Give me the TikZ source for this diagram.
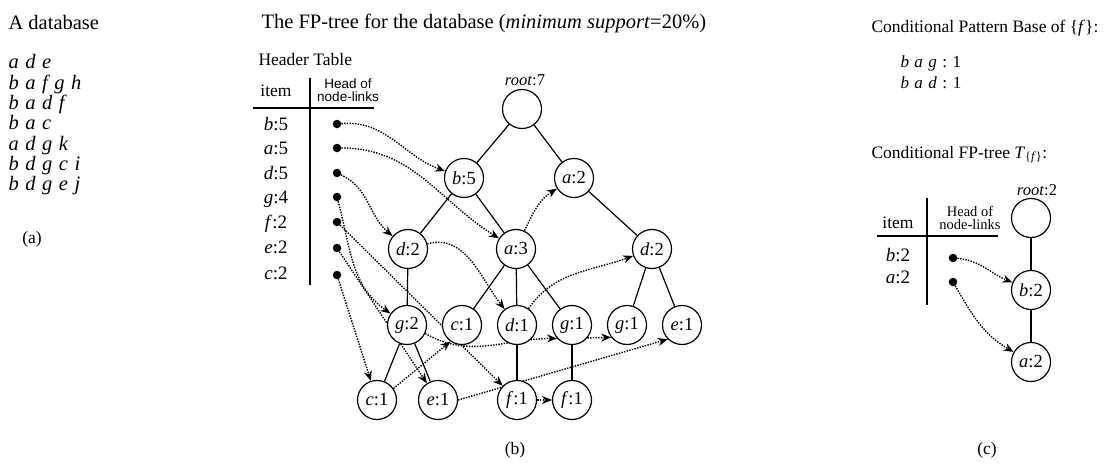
\documentclass[tikz,border=0pt]{standalone}
\usepackage{fontspec}
\setmainfont{Liberation Serif}
\setsansfont{Liberation Sans}
\usetikzlibrary{arrows.meta}
\pgfdeclarelayer{bg}
\pgfsetlayers{bg,main}
\newcommand\fsz[1]{\fontsize{#1}{#1}\selectfont}
\newcommand\nl[2]{\textit{#1}:#2}
\newcommand\wsp{\hspace{0.32em}}
\begin{document}
\begin{tikzpicture}[x=1pt,y=-1pt,
  tn/.style={circle,draw,line width=1.2pt,minimum size=39pt,inner sep=0pt,fill=white,font=\fsz{18.5}},
  tedge/.style={line width=1.2pt},
  tline/.style={line width=1.2pt},
  lnk/.style={line width=1.4pt,dash pattern=on 1.4pt off 1.3pt,-{Stealth[length=10pt,width=8pt]}},
  hdot/.style={circle,fill=black,inner sep=0pt,minimum size=8.5pt},
  hd/.style={font=\fsz{20.5}},
  txt/.style={font=\fsz{20.5}},
  itm/.style={font=\fsz{19}},
  rl/.style={font=\fsz{16.5}},
  sub/.style={font=\fsz{17.5}}
]
\useasboundingbox (0,0) rectangle (1104,466);

% ---------- (a) ----------
\node[hd,anchor=base west] (adb) at (5,29) {A database};
\node[txt,anchor=base west] (t1) at (5,68) {\textit{a\wsp d\wsp e}};
\node[txt,anchor=base west] (t2) at (5,89) {\textit{b\wsp a\wsp f\wsp g\wsp h}};
\node[txt,anchor=base west] (t3) at (5,109) {\textit{b\wsp a\wsp d\wsp f}};
\node[txt,anchor=base west] (t4) at (5,129) {\textit{b\wsp a\wsp c}};
\node[txt,anchor=base west] (t5) at (5,150) {\textit{a\wsp d\wsp g\wsp k}};
\node[txt,anchor=base west] (t6) at (5,170) {\textit{b\wsp d\wsp g\wsp c\wsp i}};
\node[txt,anchor=base west] (t7) at (5,190) {\textit{b\wsp d\wsp g\wsp e\wsp j}};
\node[sub,anchor=base] (la) at (32,243) {(a)};

% ---------- (b) ----------
\node[hd,anchor=base west] (title) at (258,28) {The FP-tree for the database (\textit{minimum support}=20\%)};
\node[sub,anchor=base west] (ht) at (255,65) {Header Table};
\node[sub,anchor=base] (hitem) at (276,96) {item};
\node[font=\sffamily\fsz{13.5},align=center,inner sep=0pt] (hhead) at (348,90) {Head of\\[-1pt]node-links};
\draw[tline] (253,108) -- (374,108);
\draw[tline] (310,78) -- (310,285);

\node[itm,anchor=base] (ib) at (276,130) {\nl{b}{5}};
\node[itm,anchor=base] (ia) at (276,154) {\nl{a}{5}};
\node[itm,anchor=base] (id) at (276,179) {\nl{d}{5}};
\node[itm,anchor=base] (ig) at (276,203) {\nl{g}{4}};
\node[itm,anchor=base] (if) at (276,228) {\nl{f}{2}};
\node[itm,anchor=base] (ie) at (276,253) {\nl{e}{2}};
\node[itm,anchor=base] (ic) at (276,279) {\nl{c}{2}};

\node[hdot] (hb) at (337,124) {};
\node[hdot] (ha) at (337,148) {};
\node[hdot] (hd) at (337,173) {};
\node[hdot] (hg) at (337,197) {};
\node[hdot] (hf) at (337,222) {};
\node[hdot] (he) at (337,248) {};
\node[hdot] (hc) at (337,275) {};

% tree
\node[tn] (r7) at (522,109) {};
\node[rl] (r7l) at (525,80) {\textit{root}:7};
\node[tn] (b5) at (464,178) {\nl{b}{5}};
\node[tn] (a2) at (574,178) {\nl{a}{2}};
\node[tn] (d2l) at (408,249) {\nl{d}{2}};
\node[tn] (a3) at (516,249) {\nl{a}{3}};
\node[tn] (d2r) at (652,249) {\nl{d}{2}};
\node[tn] (g2) at (407,325) {\nl{g}{2}};
\node[tn] (c1m) at (462,325) {\nl{c}{1}};
\node[tn] (d1) at (517,325) {\nl{d}{1}};
\node[tn] (g1m) at (572,325) {\nl{g}{1}};
\node[tn] (g1r) at (627,325) {\nl{g}{1}};
\node[tn] (e1r) at (682,325) {\nl{e}{1}};
\node[tn] (c1b) at (377,400) {\nl{c}{1}};
\node[tn] (e1b) at (438,400) {\nl{e}{1}};
\node[tn] (f1) at (517,400) {\nl{f}{1}};
\node[tn] (f1r) at (572,400) {\nl{f}{1}};
\node[sub,anchor=base] (lb) at (515,454) {(b)};

\begin{pgfonlayer}{bg}
\draw[tedge] (r7) -- (b5);
\draw[tedge] (r7) -- (a2);
\draw[tedge] (b5) -- (d2l);
\draw[tedge] (b5) -- (a3);
\draw[tedge] (a2) -- (d2r);
\draw[tedge] (d2l) -- (g2);
\draw[tedge] (a3) -- (c1m);
\draw[tedge] (a3) -- (d1);
\draw[tedge] (a3) -- (g1m);
\draw[tedge] (d2r) -- (g1r);
\draw[tedge] (d2r) -- (e1r);
\draw[tedge] (g2) -- (c1b);
\draw[tedge] (g2) -- (e1b);
\draw[tedge] (d1) -- (f1);
\draw[tedge] (g1m) -- (f1r);
% node-links
\draw[lnk] (hb) to[out=5,in=160] (b5);
\draw[lnk] (ha) to[out=0,in=148] (a3);
\draw[lnk] (a3) to[out=65,in=212] (a2);
\draw[lnk] (hd) to[out=-25,in=140] (d2l);
\draw[lnk] (d2l) to[out=15,in=128] (d1);
\draw[lnk] (d1) to[out=55,in=200] (d2r);
\draw[lnk] (hg) to[out=-75,in=145] (g2);
\draw[lnk] (g2.-25) to[out=-30,in=180] (g1m.222);
\draw[lnk] (g1m.-40) -- (g1r.218);
\draw[lnk] (hf) -- (f1);
\draw[lnk] (f1) -- (f1r);
\draw[lnk] (he) -- (e1b);
\draw[lnk] (e1b.east) -- (e1r.225);
\draw[lnk] (hc) -- (c1b);
\draw[lnk] (c1b.35) -- (c1m.235);
\end{pgfonlayer}

% ---------- (c) ----------
\node[sub,anchor=base west] (cpb) at (868,32) {Conditional Pattern Base of \{\textit{f}\}:};
\node[font=\fsz{17},anchor=base west] (p1) at (897,67) {\textit{b\wsp a\wsp g}\wsp: 1};
\node[font=\fsz{17},anchor=base west] (p2) at (897,88) {\textit{b\wsp a\wsp d}\wsp: 1};
\node[sub,anchor=base west] (cft) at (868,158) {Conditional FP-tree \textit{T}\textsubscript{\{\textit{f}\}}:};

\node[sub,anchor=base] (citem) at (898,228) {item};
\node[font=\fsz{14.5},align=center,inner sep=0pt] (chead) at (970,218) {Head of\\[-1pt]node-links};
\draw[tline] (877,236) -- (998,236);
\draw[tline] (927,198) -- (927,305);
\node[itm,anchor=base] (cb) at (898,261) {\nl{b}{2}};
\node[itm,anchor=base] (ca) at (898,283) {\nl{a}{2}};
\node[hdot] (chb) at (953,258) {};
\node[hdot] (cha) at (953,282) {};

\node[tn] (r2) at (1031,218) {};
\node[rl] (r2l) at (1037,190) {\textit{root}:2};
\node[tn] (b2) at (1031,290) {\nl{b}{2}};
\node[tn] (a2c) at (1031,362) {\nl{a}{2}};
\node[sub,anchor=base] (lc) at (987,454) {(c)};

\begin{pgfonlayer}{bg}
\draw[tedge] (r2) -- (b2);
\draw[tedge] (b2) -- (a2c);
\draw[lnk] (chb) to[out=-5,in=158] (b2);
\draw[lnk] (cha) to[out=-60,in=150] (a2c);
\end{pgfonlayer}
\end{tikzpicture}
\end{document}
